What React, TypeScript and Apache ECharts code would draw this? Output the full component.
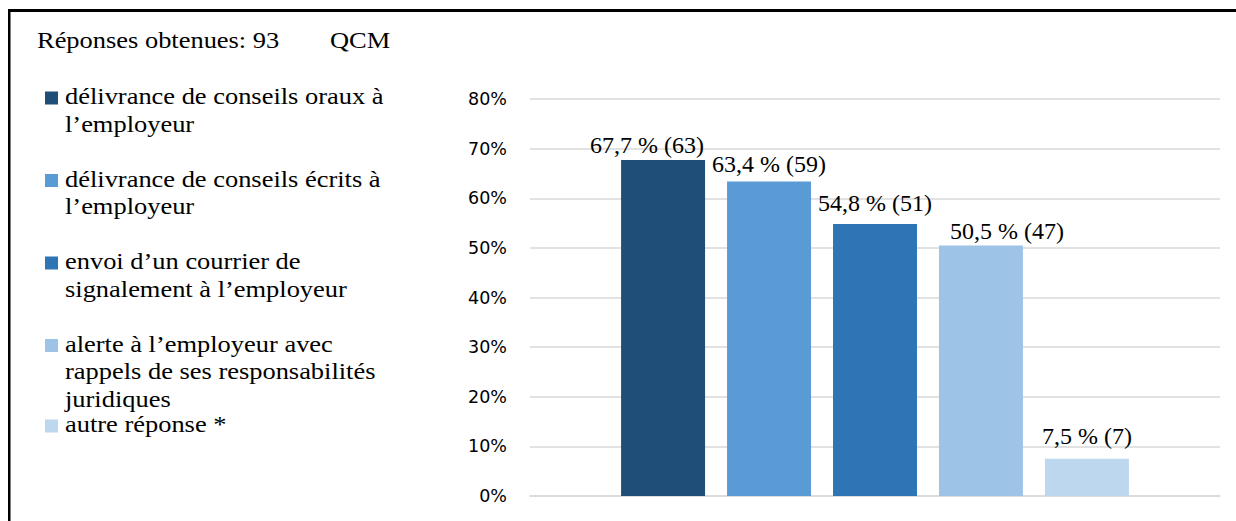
import React, { useEffect, useRef } from "react";
import * as echarts from "echarts";

// Survey answers (multiple choice), share of respondents and raw counts
const answerNames = [
  "délivrance de conseils oraux à\nl’employeur",
  "délivrance de conseils écrits à\nl’employeur",
  "envoi d’un courrier de\nsignalement à l’employeur",
  "alerte à l’employeur avec\nrappels de ses responsabilités\njuridiques",
  "autre réponse *",
];
const sharePct = [67.7, 63.4, 54.8, 50.5, 7.5];
const answerCounts = [63, 59, 51, 47, 7];
const barColors = ["#1f4e79", "#5b9bd5", "#2e75b6", "#9dc3e6", "#bdd7ee"];
const yTicks = { min: 0, max: 80, interval: 10 };
const headerText = "Réponses obtenues: 93";
const headerTag = "QCM";

// Small label nudges so the value tags sit where they read best
const labelNudges: [number, number][] = [
  [-16, 1.5],
  [0, 0],
  [0, -4.5],
  [26, 3],
  [0, -5.5],
];

const serif = "'Liberation Serif', 'Times New Roman', serif";
// the serif texts in this figure are set slightly wide
const wide = 1.15;

export default function App() {
  const ref = useRef<HTMLDivElement>(null);

  useEffect(() => {
    if (!ref.current) return;
    const chart = echarts.init(ref.current, undefined, { renderer: "svg" });

    const legendGraphics: any[] = [];
    const legendTop = 104; // first baseline
    const legendStep = 82.5;
    const lh = 27.5;
    answerNames.forEach((name, i) => {
      const base = legendTop + i * legendStep - (i === 4 ? 2 : 0);
      legendGraphics.push({
        type: "rect",
        shape: { x: 45, y: base - 12.5, width: 13, height: 13 },
        style: { fill: barColors[i] },
      });
      legendGraphics.push({
        type: "text",
        x: 65,
        y: base - 7.5 - lh / 2,
        scaleX: wide,
        style: {
          text: name,
          fontFamily: serif,
          fontSize: 23,
          fill: "#000",
          lineHeight: lh,
          verticalAlign: "top",
          align: "left",
        },
      });
    });

    const series = sharePct.map((v, i) => ({
      type: "bar",
      name: answerNames[i],
      data: [v],
      itemStyle: { color: barColors[i] },
      barGap: "26.2%",
      barCategoryGap: "26.4%",
      label: {
        show: true,
        position: "top",
        distance: 5,
        offset: labelNudges[i],
        fontFamily: serif,
        fontSize: 24,
        color: "#000",
        formatter: () =>
          `${String(v).replace(".", ",")} % (${answerCounts[i]})`,
      },
    }));

    chart.setOption({
      animation: false,
      backgroundColor: "#fff",
      grid: { left: 530, right: 16, top: 99, bottom: 25, containLabel: false },
      xAxis: {
        type: "category",
        data: [""],
        axisLine: { show: true, lineStyle: { color: "#d9d9d9", width: 1.5 } },
        axisTick: { show: false },
        axisLabel: { show: false },
      },
      yAxis: {
        type: "value",
        min: yTicks.min,
        max: yTicks.max,
        interval: yTicks.interval,
        axisLine: { show: false },
        axisTick: { show: false },
        splitLine: { lineStyle: { color: "#d9d9d9", width: 1.5 } },
        axisLabel: {
          formatter: "{value}%",
          margin: 23,
          fontFamily: "'DejaVu Sans', sans-serif",
          fontSize: 17.5,
          color: "#000",
        },
      },
      series,
      graphic: [
        // frame (top and left edges)
        { type: "rect", shape: { x: 8, y: 9, width: 1228, height: 3 }, style: { fill: "#000" } },
        { type: "rect", shape: { x: 8, y: 9, width: 2.5, height: 512 }, style: { fill: "#000" } },
        {
          type: "text",
          x: 37,
          y: 40.5,
          scaleX: wide,
          style: { text: headerText, fontFamily: serif, fontSize: 23, fill: "#000", verticalAlign: "middle" },
        },
        {
          type: "text",
          x: 330,
          y: 40.5,
          scaleX: wide,
          style: { text: headerTag, fontFamily: serif, fontSize: 23, fill: "#000", verticalAlign: "middle" },
        },
        ...legendGraphics,
      ],
    });

    return () => chart.dispose();
  }, []);

  return (
    <div
      ref={ref}
      style={{ position: "fixed", left: 0, top: 0, width: 1236, height: 521 }}
    />
  );
}
